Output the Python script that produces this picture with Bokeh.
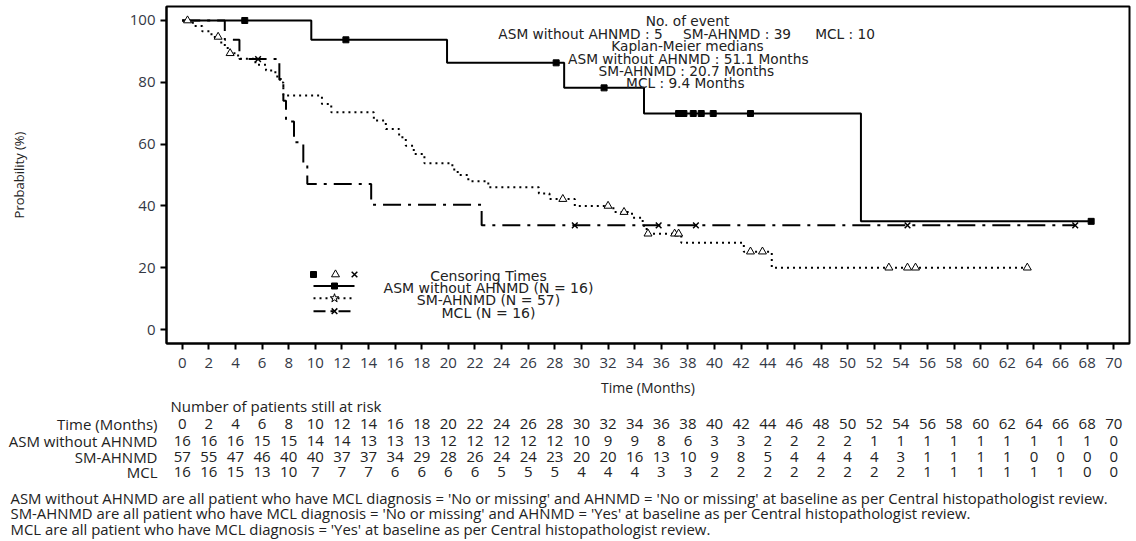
import numpy as np
from bokeh.plotting import figure
from bokeh.models import Range1d, FixedTicker
from bokeh.embed import file_html
from bokeh.resources import INLINE
from bokeh.core.properties import value

# ---------------- data ----------------
asm_time = [0, 9.7, 19.9, 28.7, 34.7, 51.0]
asm_surv = [100, 93.75, 86.3, 78.2, 69.9, 35.0]
asm_end = 68.3
asm_cens = [4.7, 12.3, 28.1, 31.7, 37.3, 37.7, 38.4, 39.0, 39.9, 42.7, 68.3]

sm_time = [0, 0.8, 1.5, 2.2, 2.8, 3.2, 3.6, 4.2, 5.5, 6.3, 7.0, 7.4, 7.6, 10.5, 11.2,
           14.4, 15.3, 16.3, 16.8, 17.4, 18.2, 20.3, 20.7, 21.5, 23.0, 26.8, 27.6,
           29.5, 32.4, 33.8, 34.6, 34.9, 37.5, 42.2, 44.3]
sm_surv = [100, 98.2, 96.5, 94.7, 92.9, 91.1, 89.4, 87.6, 85.7, 83.8, 81.9, 79.9, 75.7, 73.0, 70.3,
           67.6, 64.9, 62.2, 59.5, 56.8, 53.8, 51.8, 50.0, 48.0, 46.0, 44.0, 42.2,
           40.0, 38.0, 36.2, 33.6, 31.0, 28.1, 25.2, 20.0]
sm_end = 63.5
sm_cens = [0.4, 2.7, 3.6, 28.6, 32.0, 33.2, 35.0, 37.0, 37.3, 42.7, 43.6, 53.1, 54.5, 55.1, 63.5]

mcl_time = [0, 3.2, 4.3, 7.3, 7.6, 7.8, 8.4, 9.1, 9.4, 14.2, 22.5]
mcl_surv = [100, 93.75, 87.5, 80.8, 74.0, 67.3, 60.6, 53.8, 47.1, 40.4, 33.7]
mcl_end = 67.1
mcl_cens = [5.7, 29.5, 35.8, 38.6, 54.5, 67.1]

risk_times = list(range(0, 72, 2))
risk_asm = [16, 16, 16, 15, 15, 14, 14, 13, 13, 13, 12, 12, 12, 12, 12, 10, 9, 9,
            8, 6, 3, 3, 2, 2, 2, 2, 1, 1, 1, 1, 1, 1, 1, 1, 1, 0]
risk_sm = [57, 55, 47, 46, 40, 40, 37, 37, 34, 29, 28, 26, 24, 24, 23, 20, 20, 16,
           13, 10, 9, 8, 5, 4, 4, 4, 4, 3, 1, 1, 1, 1, 0, 0, 0, 0]
risk_mcl = [16, 16, 15, 13, 10, 7, 7, 7, 6, 6, 6, 6, 5, 5, 5, 4, 4, 4,
            3, 3, 2, 2, 2, 2, 2, 2, 2, 2, 1, 1, 1, 1, 1, 1, 0, 0]

group_names = ["ASM without AHNMD", "SM-AHNMD", "MCL"]
group_n = [16, 57, 16]
group_events = [5, 39, 10]
group_medians = [51.1, 20.7, 9.4]

x_ticks = list(range(0, 72, 2))
y_ticks = [0, 20, 40, 60, 80, 100]

footnotes = [
    "ASM without AHNMD are all patient who have MCL diagnosis = 'No or missing' and AHNMD = 'No or missing' at baseline as per Central histopathologist review.",
    "SM-AHNMD are all patient who have MCL diagnosis = 'No or missing' and AHNMD = 'Yes' at baseline as per Central histopathologist review.",
    "MCL are all patient who have MCL diagnosis = 'Yes' at baseline as per Central histopathologist review.",
]

# ---------------- helpers ----------------
def step_xy(t, s, end):
    return list(t) + [end], list(s) + [s[-1]]

def cens_y(t, s, c):
    t = np.asarray(t); s = np.asarray(s)
    idx = np.searchsorted(t, np.asarray(c), side="right") - 1
    return list(s[idx])

W, H = 1136, 541
BL, BT = 166, 6
BR, BB = W - 1129, H - 343
X0, X1 = -1.18, 71.18
Y0, Y1 = -4.53, 104.53
ppm = (W - BL - BR) / (X1 - X0)          # pixels per month
ppu = (H - BT - BB) / (Y1 - Y0)          # pixels per percent

def yv(py):   # picture row -> value on the y scale (for text placed around the frame)
    return Y1 - (py - BT) / ppu

def xv(px):   # picture column -> value on the x scale
    return X0 + (px - BL) / ppm

FONT = value("Open Sans")
FONT2 = value("DejaVu Sans")
TXT = "#222222"

p = figure(width=W, height=H, x_range=Range1d(X0, X1), y_range=Range1d(Y0, Y1),
           output_backend="svg", toolbar_location=None,
           min_border_left=BL, min_border_right=BR, min_border_top=BT, min_border_bottom=BB)
p.xgrid.visible = False
p.ygrid.visible = False
p.outline_line_color = "black"
p.outline_line_width = 2
p.background_fill_color = "white"
p.border_fill_color = "white"

p.xaxis.ticker = FixedTicker(ticks=x_ticks)
p.yaxis.ticker = FixedTicker(ticks=y_ticks)
for ax in (p.xaxis[0], p.yaxis[0]):
    ax.axis_line_color = "black"
    ax.axis_line_width = 2
    ax.major_tick_line_color = "black"
    ax.major_tick_line_width = 2
    ax.major_tick_out = 6
    ax.major_tick_in = 0
    ax.minor_tick_line_color = None
    ax.major_label_text_font = "Open Sans"
    ax.major_label_text_font_size = "15px"
    ax.major_label_text_color = "#333845"
    ax.axis_label_text_font = "Open Sans"
    ax.axis_label_text_font_style = "normal"
    ax.axis_label_text_color = TXT
p.xaxis.major_label_standoff = 8
p.yaxis.major_label_standoff = 5
p.xaxis.axis_label = "Time (Months)"
p.xaxis.axis_label_text_font_size = "14px"
p.xaxis.axis_label_standoff = 7
p.yaxis.axis_label = "Probability (%)"
p.yaxis.axis_label_text_font_size = "13px"
p.yaxis.axis_label_standoff = 99

# curves
x, y = step_xy(asm_time, asm_surv, asm_end)
p.step(x, y, mode="after", line_color="black", line_width=2)
x, y = step_xy(sm_time, sm_surv, sm_end)
p.step(x, y, mode="after", line_color="black", line_width=2, line_dash="2 4")
x, y = step_xy(mcl_time, mcl_surv, mcl_end)
p.step(x, y, mode="after", line_color="black", line_width=2, line_dash="18 7 3 7")

p.scatter(asm_cens, cens_y(asm_time, asm_surv, asm_cens), marker="square", size=6,
          fill_color="black", line_color="black")
p.scatter(sm_cens, cens_y(sm_time, sm_surv, sm_cens), marker="triangle", size=8,
          fill_color="white", line_color="black", line_width=1)
p.scatter(mcl_cens, cens_y(mcl_time, mcl_surv, mcl_cens), marker="x", size=8,
          line_color="black", line_width=1.5)

# annotation block
ev_txt = ["No. of event"] + ["%s : %d" % (g, e) for g, e in zip(group_names, group_events)]
ev_x = [xv(687), xv(580), xv(736.5), xv(844.5)]
ev_y = [yv(20), yv(33), yv(33), yv(33)]
md_txt = ["Kaplan-Meier medians"] + ["%s : %.1f  Months" % (g, m) for g, m in zip(group_names, group_medians)]
md_x = [xv(687), xv(690), xv(688), xv(687)]
md_y = [yv(45), yv(58), yv(70), yv(82)]
p.text(ev_x + md_x, ev_y + md_y, text=ev_txt + md_txt, text_align="center", text_baseline="middle",
       text_font=FONT2, text_font_size="13.7px", text_color=TXT)

# legend (custom)
lx0, lxm, lx1 = xv(313), xv(334), xv(354)
p.scatter([xv(313)], [yv(274)], marker="square", size=6, fill_color="black", line_color="black")
p.scatter([xv(335)], [yv(274)], marker="triangle", size=8, fill_color="white", line_color="black")
p.scatter([xv(354)], [yv(274)], marker="x", size=8, line_color="black", line_width=1.5)
p.line([lx0, lx1], [yv(285.5)] * 2, line_color="black", line_width=2)
p.scatter([lxm], [yv(285.5)], marker="square", size=6, fill_color="black", line_color="black")
p.line([lx0, lx1], [yv(297.7)] * 2, line_color="black", line_width=2, line_dash="2 4")
p.scatter([lxm], [yv(297.7)], marker="star", size=9, fill_color="white", line_color="black")
p.line([lx0, lx1], [yv(310.7)] * 2, line_color="black", line_width=2, line_dash="12 5 3 5")
p.scatter([lxm], [yv(310.7)], marker="x", size=8, line_color="black", line_width=1.5)
leg_txt = ["Censoring Times"] + ["%s (N = %d)" % (g, n) for g, n in zip(group_names, group_n)]
p.text([xv(488)] * 4, [yv(275), yv(287.7), yv(299), yv(312)], text=leg_txt,
       text_align="center", text_baseline="middle",
       text_font=FONT2, text_font_size="14px", text_color=TXT)

# ---------------- at-risk table + footnotes (below the axis, not clipped) ----------------
row_y = [yv(423.5), yv(440), yv(456), yv(471)]
p.text([xv(170)], [yv(405)], text=["Number of patients still at risk"], text_align="left",
       text_baseline="middle", text_font=FONT, text_font_size="15px", text_color=TXT,
       level="annotation")
p.text([xv(157)] * 4, row_y, text=["Time (Months)"] + group_names, text_align="right",
       text_baseline="middle", text_font=FONT, text_font_size="15px", text_color=TXT,
       level="annotation")
for vals, ry in zip([risk_times, risk_asm, risk_sm, risk_mcl], row_y):
    p.text(risk_times, [ry] * len(vals), text=[str(v) for v in vals], text_align="center",
           text_baseline="middle", text_font=FONT, text_font_size="15px", text_color=TXT,
           level="annotation")

p.text([xv(10)] * 3, [yv(497), yv(512.5), yv(528)], text=footnotes, text_align="left",
       text_baseline="middle", text_font=FONT, text_font_size="14.9px", text_color=TXT,
       level="annotation")

open("out.html", "w").write(file_html(p, INLINE))
